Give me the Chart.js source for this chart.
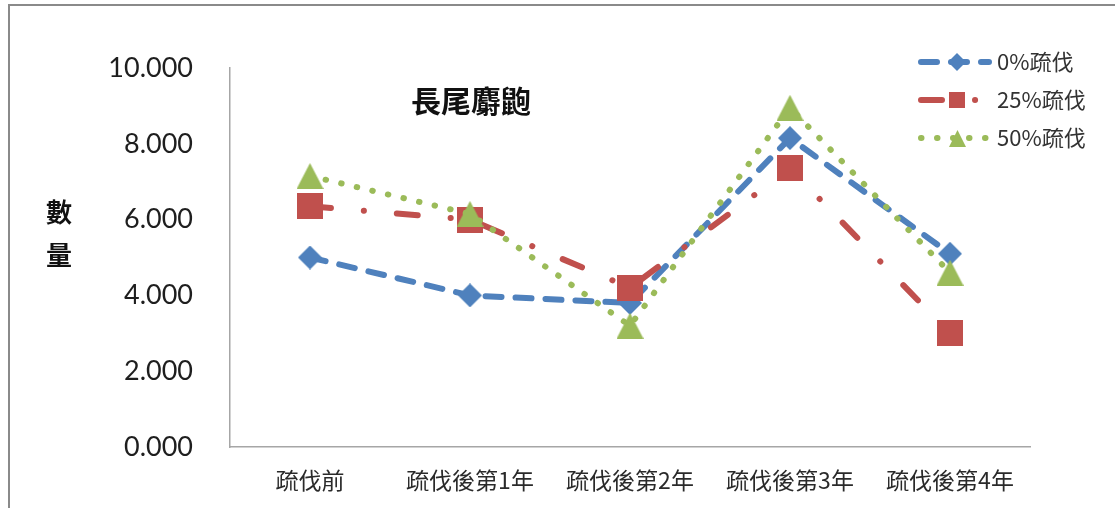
<!DOCTYPE html>
<html>
<head>
<meta charset="utf-8">
<script src="https://cdn.jsdelivr.net/npm/chart.js@4.4.1/dist/chart.umd.min.js"></script>
<style>
  html, body { margin: 0; padding: 0; background: #fff; }
  #wrap { position: relative; width: 1115px; height: 508px; }
  canvas { display: block; }
</style>
</head>
<body>
<div id="wrap"><canvas id="c" width="1115" height="508"></canvas></div>
<script>
// ---- data ----
const categories = ['疏伐前', '疏伐後第1年', '疏伐後第2年', '疏伐後第3年', '疏伐後第4年'];
const seriesNames = ['0%疏伐', '25%疏伐', '50%疏伐'];
const thin0 = [5.0, 4.0, 3.8, 8.15, 5.1];
const thin25 = [6.35, 6.0, 4.2, 7.35, 3.0];
const thin50 = [7.15, 6.15, 3.2, 8.95, 4.6];
const yTicks = [0, 2, 4, 6, 8, 10];
const chartTitle = '長尾麝鼩';
const yTitleChars = ['數', '量'];

// ---- styles ----
const colors = ['#4F81BD', '#C0504D', '#9BBB59'];
const dashes = [[16, 14], [21, 33, 0.1, 33], [0.5, 15.5]];
const CJK = "'Noto Sans CJK TC', 'Noto Sans CJK SC', sans-serif";
const LINE_W = 6;

function makeMarker(type, w, h, color) {
  const c = document.createElement('canvas');
  c.width = w; c.height = h;
  const g = c.getContext('2d');
  g.fillStyle = color;
  g.beginPath();
  if (type === 'diamond') {
    g.moveTo(w / 2, 0); g.lineTo(w, h / 2); g.lineTo(w / 2, h); g.lineTo(0, h / 2);
  } else if (type === 'square') {
    g.rect(0, 0, w, h);
  } else {
    g.moveTo(w / 2, 0); g.lineTo(w, h); g.lineTo(0, h);
  }
  g.closePath();
  g.fill();
  return c;
}
const bigMarkers = [
  makeMarker('diamond', 24, 24, colors[0]),
  makeMarker('square', 26, 26, colors[1]),
  makeMarker('triangle', 27, 26, colors[2])
];
const smallMarkers = [
  makeMarker('diamond', 18, 18, colors[0]),
  makeMarker('square', 16, 16, colors[1]),
  makeMarker('triangle', 17, 17, colors[2])
];

const seriesData = [thin0, thin25, thin50];
const datasets = seriesData.map((d, i) => ({
  label: seriesNames[i],
  data: d,
  borderColor: colors[i],
  backgroundColor: colors[i],
  borderWidth: LINE_W,
  borderDash: dashes[i],
  borderCapStyle: 'round',
  borderJoinStyle: 'round',
  tension: 0,
  fill: false,
  pointStyle: bigMarkers[i],
  pointRadius: 12,
  pointHoverRadius: 12,
  order: 3 - i
}));

const decorPlugin = {
  id: 'decor',
  beforeDraw(chart) {
    const ctx = chart.ctx;
    ctx.save();
    ctx.strokeStyle = '#8a8a8a';
    ctx.lineWidth = 2;
    ctx.strokeRect(9, 5, 1300, 700);
    ctx.restore();
  },
  afterDraw(chart) {
    const ctx = chart.ctx;
    ctx.save();
    // chart title
    ctx.fillStyle = '#111';
    ctx.font = "bold 30px " + CJK;
    ctx.textAlign = 'center';
    ctx.textBaseline = 'middle';
    ctx.fillText(chartTitle, 471, 101);
    // y title (stacked)
    ctx.font = "bold 26px " + CJK;
    ctx.fillText(yTitleChars[0], 59, 212);
    ctx.fillText(yTitleChars[1], 59, 255);
    // legend
    const rows = [62, 100, 138];
    for (let i = 0; i < 3; i++) {
      const y = rows[i];
      ctx.save();
      ctx.strokeStyle = colors[i];
      ctx.lineWidth = LINE_W;
      ctx.lineCap = 'round';
      ctx.setLineDash(dashes[i]);
      ctx.beginPath();
      ctx.moveTo(921, y);
      ctx.lineTo(989, y);
      ctx.stroke();
      ctx.restore();
      const m = smallMarkers[i];
      ctx.drawImage(m, Math.round(957 - m.width / 2), Math.round(y - m.height / 2));
      ctx.fillStyle = '#333';
      ctx.font = "22px " + CJK;
      ctx.textAlign = 'left';
      ctx.textBaseline = 'middle';
      ctx.fillText(seriesNames[i], 997, y);
    }
    ctx.restore();
  }
};

new Chart(document.getElementById('c'), {
  type: 'line',
  data: { labels: categories, datasets: datasets },
  options: {
    responsive: false,
    animation: false,
    devicePixelRatio: 1,
    layout: { padding: { left: 0, top: 68, right: 85, bottom: 0 } },
    plugins: { legend: { display: false }, title: { display: false }, tooltip: { enabled: false } },
    scales: {
      x: {
        type: 'category',
        offset: true,
        grid: { display: false, drawTicks: false },
        border: { display: true, color: '#a6a6a6', width: 1.5 },
        ticks: {
          color: '#2a2a2a',
          font: { family: CJK, size: 23 },
          padding: 19,
          maxRotation: 0,
          autoSkip: false
        },
        afterFit(scale) { scale.height = 61; }
      },
      y: {
        min: 0,
        max: 10,
        grid: { display: false, drawTicks: false },
        border: { display: true, color: '#a6a6a6', width: 1.5 },
        afterBuildTicks(scale) { scale.ticks = yTicks.map(v => ({ value: v })); },
        ticks: {
          color: '#1e1e1e',
          font: { family: 'Lato', size: 27 },
          padding: 37,
          callback: v => Number(v).toFixed(3)
        },
        afterFit(scale) { scale.width = 230; }
      }
    }
  },
  plugins: [decorPlugin]
});
</script>
</body>
</html>
